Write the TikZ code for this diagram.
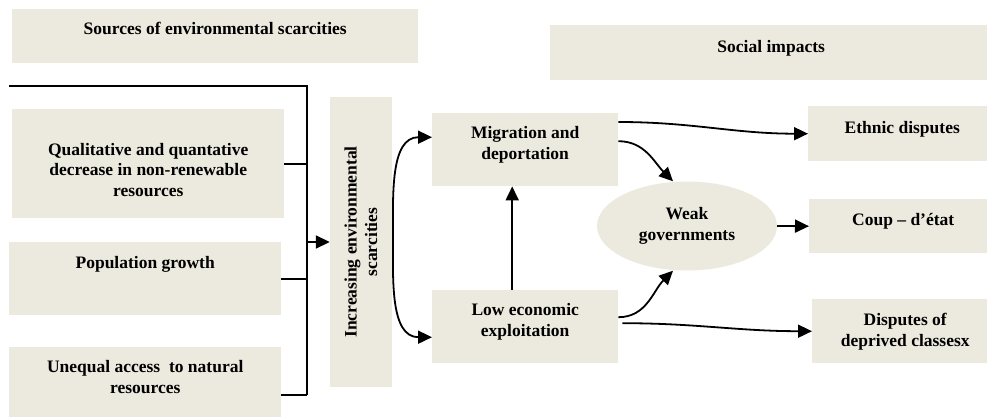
\documentclass[tikz,border=0pt]{standalone}
\usepackage{fontspec}
\setmainfont{Liberation Serif}
\usepackage{tikz}
\usetikzlibrary{arrows.meta,shapes.geometric}
\definecolor{boxfill}{RGB}{236,233,222}

\begin{document}
\begin{tikzpicture}[x=1pt,y=-1pt,
  box/.style={fill=boxfill,inner sep=0pt,align=center,anchor=north west,
    font=\fontsize{17.5}{20.5}\selectfont\bfseries},
  rail/.style={line width=1.6pt},
  link/.style={line width=1.8pt,-{Triangle[length=14pt,width=13pt]}},
  twolink/.style={line width=1.8pt,{Triangle[length=14pt,width=13pt]}-{Triangle[length=14pt,width=13pt]}}]
\useasboundingbox (0,0) rectangle (987,417);
\node[box,minimum width=406pt,text height=25pt,text depth=29pt] (sources) at (12,9) {Sources of environmental scarcities};
\node[box,minimum width=442pt,text height=27pt,text depth=28pt] (social) at (550,25) {Social impacts};
\node[box,minimum width=272pt,text height=87pt,text depth=22pt] (qualit) at (12,109) {Qualitative and quantative\\decrease in non-renewable\\resources};
\node[box,minimum width=272pt,text height=26pt,text depth=47pt] (popul) at (9,242) {Population growth};
\node[box,minimum width=272pt,text height=46pt,text depth=24pt] (unequal) at (9,347) {Unequal access\ \ to natural\\resources};
\node[box,anchor=center,rotate=90,minimum width=290pt,minimum height=62pt] (scarcity) at (361,242) {Increasing environmental\\scarcities};
\node[box,minimum width=186pt,text height=46pt,text depth=27pt] (migration) at (432,113) {Migration and\\deportation};
\node[box,minimum width=186pt,text height=46pt,text depth=27pt] (lowecon) at (432,290) {Low economic\\exploitation};
\node[box,anchor=center,ellipse,minimum width=180pt,minimum height=89pt] (weak) at (687,226) {Weak\\governments};
\node[box,minimum width=188pt,text height=27pt,text depth=28pt] (ethnic) at (808,106) {Ethnic disputes};
\node[box,minimum width=188pt,text height=26pt,text depth=28pt] (coup) at (809,199) {Coup -- d’état};
\node[box,minimum width=186pt,text height=47pt,text depth=17pt] (deprived) at (812,299) {Disputes of\\deprived classesx};
\coordinate (railtop) at (9,86);
\coordinate (railend) at (307,86);
\coordinate (railfoot) at (307,395);
\coordinate (bend) at (393,237);
\draw[rail] (railtop) -- (railend) -- (railfoot);
\draw[rail] (qualit.east) -- (qualit.east -| railend);
\draw[rail] (popul.east) -- (popul.east -| railend);
\draw[rail] (railfoot -| unequal.east) -- (railfoot);
\draw[link] (railend |- scarcity.center) -- (scarcity.north);
\draw[twolink] ([yshift=12.5pt]migration.west) to[out=180,in=90] (bend) to[out=-90,in=180] ([yshift=-10.5pt]lowecon.west);
\draw[link] ([xshift=-13pt]lowecon.north) -- ([xshift=-13pt]migration.south);
\draw[link] ([yshift=-9pt]migration.north east) to[out=0,in=180] (ethnic.west);
\draw[link] ([yshift=8.5pt]migration.east) to[out=0,in=135] ([xshift=-14pt]weak.north);
\draw[link] ([yshift=9.5pt]lowecon.east) to[out=0,in=-135] ([xshift=-14pt]weak.south);
\draw[link] ([shift={(4pt,3.5pt)}]lowecon.east) to[out=0,in=180] (deprived.west);
\draw[link] (weak.east) -- (coup.west);
\end{tikzpicture}
\end{document}
